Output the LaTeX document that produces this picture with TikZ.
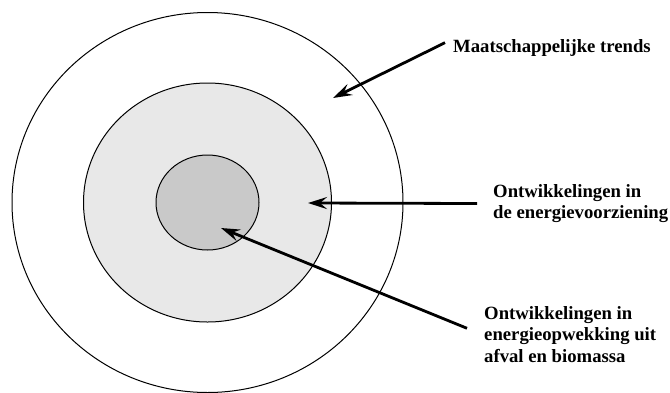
\documentclass[tikz,border=0pt]{standalone}
\usepackage{fontspec}
\setmainfont{Liberation Serif}
\usetikzlibrary{arrows.meta,shapes.geometric}
\definecolor{midfill}{HTML}{E8E8E8}
\definecolor{corefill}{HTML}{C9C9C9}
\tikzset{
  ring/.style={draw,ellipse,line width=1pt,inner sep=0pt,outer sep=0pt},
  note/.style={font=\bfseries\fontsize{18.7}{21.5}\selectfont,align=left,inner sep=0pt,anchor=north west},
  pointer/.style={line width=2.8pt,-{Stealth[length=19pt,width=12pt,inset=7pt]}}
}
\begin{document}
\begin{tikzpicture}[x=1pt,y=-1pt]
\useasboundingbox (0,0) rectangle (670,392);
\node[ring,minimum width=391pt,minimum height=380pt] (society) at (207.5,202.5) {};
\node[ring,fill=midfill,minimum width=248pt,minimum height=239pt] (supply) at (society.center) {};
\node[ring,fill=corefill,minimum width=103pt,minimum height=95pt] (biomass) at (society.center) {};
\node[note] (society text) at (453,39) {Maatschappelijke trends};
\node[note] (supply text) at (493,184) {Ontwikkelingen in\\de energievoorziening};
\node[note] (biomass text) at (484,306) {Ontwikkelingen in\\energieopwekking uit\\afval en biomassa};
\coordinate (society tip) at (333,98);
\coordinate (supply tip) at (308,203);
\coordinate (biomass tip) at (221,228);
\draw[pointer] ([shift={(-8,-5)}]society text.west) -- (society tip);
\draw[pointer] ([xshift=-16pt]supply text.west) -- (supply tip);
\draw[pointer] ([shift={(-17,-6)}]biomass text.west) -- (biomass tip);
\end{tikzpicture}
\end{document}
